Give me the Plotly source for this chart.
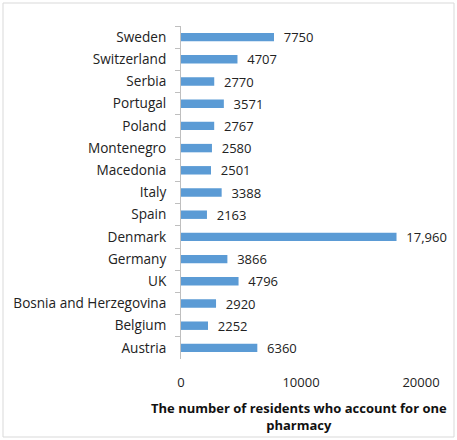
import plotly.graph_objects as go

countries = ["Sweden", "Switzerland", "Serbia", "Portugal", "Poland", "Montenegro",
             "Macedonia", "Italy", "Spain", "Denmark", "Germany", "UK",
             "Bosnia and Herzegovina", "Belgium", "Austria"]
values = [7750, 4707, 2770, 3571, 2767, 2580, 2501, 3388, 2163, 17960, 3866, 4796,
          2920, 2252, 6360]
labels = ["7750", "4707", "2770", "3571", "2767", "2580", "2501", "3388", "2163",
          "17,960", "3866", "4796", "2920", "2252", "6360"]
x_ticks = [0, 10000, 20000]
x_title = "<b>The number of residents who account for one<br>pharmacy</b>"

font = "Open Sans, Liberation Sans, sans-serif"

fig = go.Figure(go.Bar(
    x=values, y=countries, orientation="h",
    marker=dict(color="#5B9BD5", line=dict(width=0)),
    text=["  " + t for t in labels], textposition="outside",
    textfont=dict(size=13, color="#222", family=font),
    cliponaxis=False, constraintext="none",
))

fig.update_layout(
    width=457, height=440,
    margin=dict(l=181, r=36, t=26, b=81, autoexpand=False),
    paper_bgcolor="white", plot_bgcolor="white",
    bargap=0.62, showlegend=False,
    font=dict(family=font, size=13, color="#222"),
    xaxis=dict(range=[0, 20000], tickvals=x_ticks, ticktext=[str(v) for v in x_ticks],
               showgrid=False, zeroline=False, showline=False, ticks="",
               ticklabelstandoff=14, automargin=False),
    yaxis=dict(autorange="reversed", showline=True, linecolor="#BFBFBF", linewidth=1,
               ticks="outside", tickson="boundaries", ticklen=5, tickcolor="#BFBFBF",
               tickfont=dict(size=13.6), ticklabelstandoff=11, automargin=False,
               showgrid=False, zeroline=False),
    annotations=[dict(text=x_title, xref="paper", yref="paper", x=0.49, y=(359 - 397) / 333,
                      xanchor="center", yanchor="top", showarrow=False,
                      font=dict(size=13, color="#111"))],
    shapes=[dict(type="rect", xref="paper", yref="paper",
                 x0=(3 - 181) / 240, x1=(454 - 181) / 240,
                 y0=(359 - 437) / 333, y1=(359 - 3) / 333,
                 line=dict(color="#D9D9D9", width=1), fillcolor="rgba(0,0,0,0)")],
)

fig.write_html("out.html")
